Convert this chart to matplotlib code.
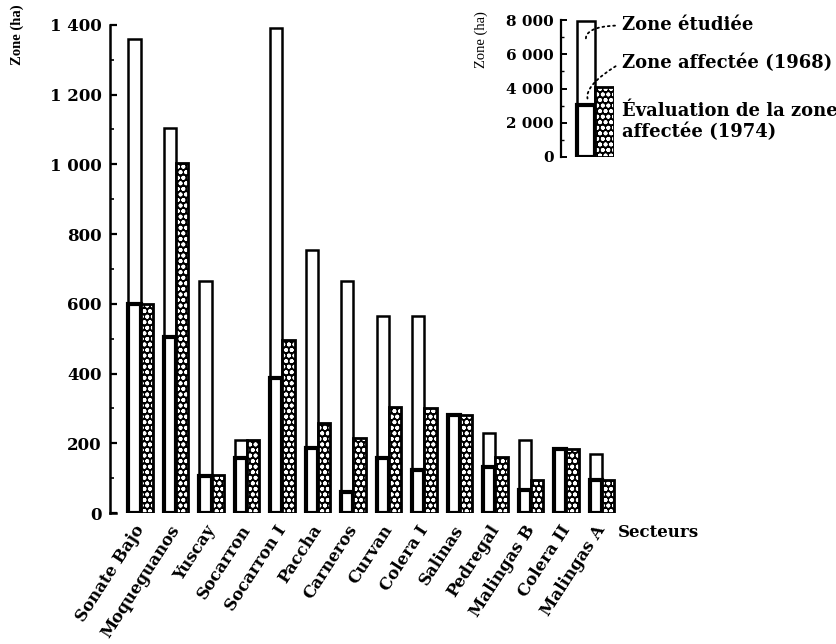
import numpy as np
import matplotlib.pyplot as plt
from matplotlib.ticker import MultipleLocator, FuncFormatter

plt.rcParams['font.family'] = ['DejaVu Serif']
plt.rcParams['font.weight'] = 'bold'
plt.rcParams['hatch.linewidth'] = 1.2

# ----------------------------
# Data
# ----------------------------
sectors = ['Sonate Bajo', 'Moqueguanos', 'Yuscay', 'Socarron', 'Socarron I', 'Paccha',
           'Carneros', 'Curvan', 'Colera I', 'Salinas', 'Pedregal', 'Malingas B',
           'Colera II', 'Malingas A']
zone_etudiee = [1360, 1105, 665, 210, 1390, 755, 665, 565, 565, 280, 230, 210, 185, 168]
zone_affectee_1968 = [600, 505, 105, 158, 387, 186, 60, 158, 123, 280, 132, 66, 183, 95]
zone_affectee_1974 = [600, 1005, 110, 210, 496, 258, 215, 304, 300, 280, 161, 95, 183, 95]

total_labels = ['Zone étudiée', 'Zone affectée (1968)', 'Évaluation de la zone\naffectée (1974)']
total_values = [7950, 3050, 4100]


def fmt_thousands(v, pos):
    return f'{int(v):,}'.replace(',', ' ')


fig = plt.figure(figsize=(8.37, 6.44), dpi=100)

# ----------------------------
# Main chart
# ----------------------------
ax = fig.add_axes([0.1314, 0.2034, 0.609, 0.758])
x = np.arange(len(sectors))
w = 0.35

ax.bar(x - w, zone_etudiee, width=w, align='edge', facecolor='white',
       edgecolor='black', linewidth=1.8, zorder=2)
ax.bar(x - w, zone_affectee_1968, width=w, align='edge', facecolor='white',
       edgecolor='black', linewidth=3.0, zorder=3)
ax.bar(x, zone_affectee_1974, width=w, align='edge', facecolor='black',
       edgecolor='white', hatch='ooo', linewidth=0, zorder=3)
ax.bar(x, zone_affectee_1974, width=w, align='edge', fill=False,
       edgecolor='black', linewidth=2.0, zorder=4)

x0 = -0.86
ax.set_xlim(x0, 13.5)
ax.set_ylim(0, 1400)
ax.set_yticks(np.arange(0, 1401, 200))
ax.yaxis.set_minor_locator(MultipleLocator(100))
ax.yaxis.set_major_formatter(FuncFormatter(fmt_thousands))
ax.tick_params(axis='y', which='major', direction='in', length=5, width=1.6,
               labelsize=12, pad=6)
ax.tick_params(axis='y', which='minor', direction='in', length=3, width=1.2)

ax.set_xticks(x)
ax.set_xticklabels(sectors, rotation=57, ha='right', va='center',
                   rotation_mode='anchor', fontsize=12)
ax.tick_params(axis='x', length=0, pad=10)

for s in ['top', 'right']:
    ax.spines[s].set_visible(False)
ax.spines['left'].set_linewidth(1.8)
ax.spines['bottom'].set_linewidth(1.8)
ax.spines['bottom'].set_bounds(x0, x0 + 0.18)

ax.text(13.45, -55, 'Secteurs', ha='left', va='center', fontsize=12, clip_on=False)
fig.text(17 / 837, 1 - 35 / 644, 'Zone (ha)', rotation=90, ha='center', va='center',
         fontsize=10.5, family='Liberation Serif')

# ----------------------------
# Inset: totals
# ----------------------------
ax_in = fig.add_axes([561 / 837, 1 - 157 / 644, 53 / 837, 137 / 644])
ax_in.bar(0.30, total_values[0], width=0.34, align='edge', facecolor='white',
          edgecolor='black', linewidth=1.8, zorder=2)
ax_in.bar(0.30, total_values[1], width=0.34, align='edge', facecolor='white',
          edgecolor='black', linewidth=3.0, zorder=3)
ax_in.bar(0.64, total_values[2], width=0.36, align='edge', facecolor='black',
          edgecolor='white', hatch='ooo', linewidth=0, zorder=3)
ax_in.bar(0.64, total_values[2], width=0.36, align='edge', fill=False,
          edgecolor='black', linewidth=2.0, zorder=4)
ax_in.set_xlim(0, 1)
ax_in.set_ylim(0, 8000)
ax_in.set_yticks(np.arange(0, 8001, 2000))
ax_in.yaxis.set_minor_locator(MultipleLocator(1000))
ax_in.yaxis.set_major_formatter(FuncFormatter(fmt_thousands))
ax_in.tick_params(axis='y', which='major', direction='in', length=4, width=1.4,
                  labelsize=11, pad=5)
ax_in.tick_params(axis='y', which='minor', direction='in', length=2, width=1.0)
ax_in.set_xticks([])
for s in ['top', 'right', 'bottom']:
    ax_in.spines[s].set_visible(False)
ax_in.spines['left'].set_linewidth(1.6)
ax_in.set_ylabel('Zone (ha)', fontsize=10.5, family='Liberation Serif')
ax_in.yaxis.set_label_coords(-1.38, 0.86)
ax_in.patch.set_visible(False)

dots = dict(arrowstyle='-', linestyle=(0, (1, 2)), color='black', linewidth=1.3,
            shrinkA=3, shrinkB=0, relpos=(0, 0.5))
ax_in.annotate(total_labels[0], xy=(0.47, total_values[0] * 0.85),
               xytext=(1.15, 0.96), textcoords='axes fraction', va='center',
               fontsize=13,
               arrowprops=dict(dots, connectionstyle='angle3,angleA=0,angleB=100'))
ax_in.annotate(total_labels[1], xy=(0.5, total_values[1] * 1.12),
               xytext=(1.15, 0.69), textcoords='axes fraction', va='center',
               fontsize=13,
               arrowprops=dict(dots, connectionstyle='angle3,angleA=210,angleB=100'))
ax_in.text(1.15, 0.26, total_labels[2], transform=ax_in.transAxes, va='center',
           ha='left', fontsize=13, linespacing=1.2)

fig.savefig('out.png', dpi=100)
